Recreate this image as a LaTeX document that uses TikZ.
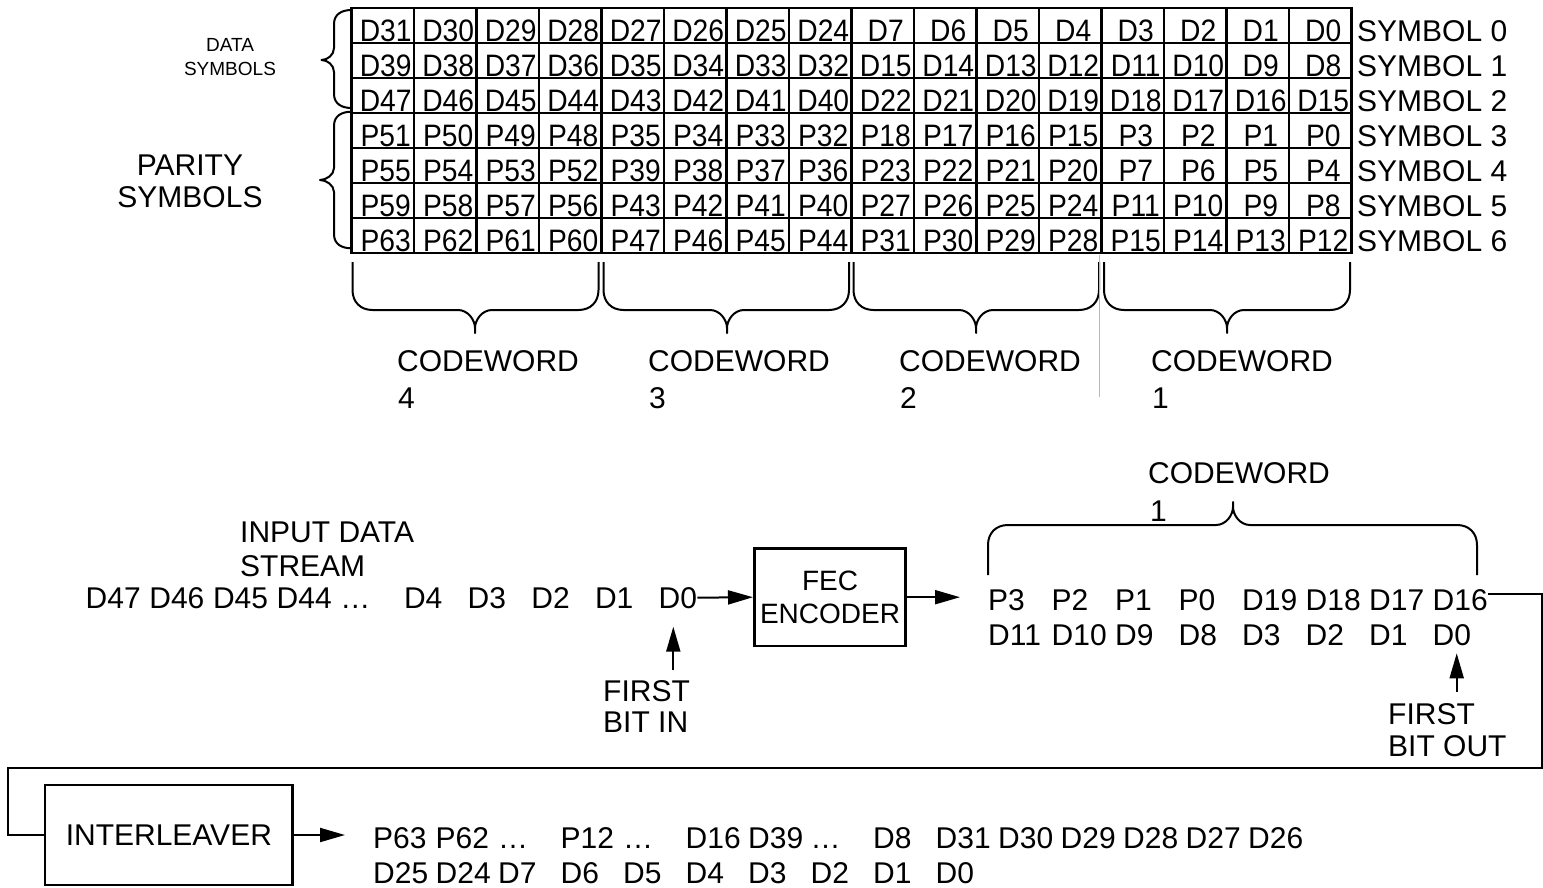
\documentclass[tikz,border=0pt]{standalone}
\usepackage{fontspec}
\setmainfont{Liberation Sans}
\newfontfamily\cellfont[FakeStretch=0.91]{Liberation Sans}
\usetikzlibrary{arrows.meta}

\tikzset{
  tbl/.style={line width=2.4pt, line cap=rect},
  brc/.style={line width=2pt, line join=round},
  wire/.style={line width=2pt},
  arr/.style={line width=2pt, -{Triangle[length=25pt,width=14pt]}},
  lbl/.style={inner sep=0pt, font=\fontsize{30}{35}\selectfont, anchor=base west},
  cell/.style={inner sep=0pt, font=\cellfont\fontsize{31}{35}\selectfont, anchor=base},
  box/.style={draw, line width=2.6pt, inner sep=0pt},
}

% horizontal brace: x1, x2, xtip, y-ends, y-bar, y-tip, direction (1 down, -1 up)
\newcommand{\hbrc}[7]{%
  \draw[brc] (#1,#4) -- (#1,{#5-20*#7}) .. controls (#1,{#5-8*#7}) and ({#1+8},#5) .. ({#1+20},#5)
    -- ({#3-17},#5) .. controls ({#3-7},#5) and (#3,{#5+10*#7}) .. (#3,{#6-5*#7}) -- (#3,#6)
    -- (#3,{#6-5*#7}) .. controls (#3,{#5+10*#7}) and ({#3+7},#5) .. ({#3+17},#5)
    -- ({#2-20},#5) .. controls ({#2-8},#5) and (#2,{#5-8*#7}) .. (#2,{#5-20*#7}) -- (#2,#4);}
% left brace: x-ends, x-body, x-tip, y-top, y-tip, y-bottom
\newcommand{\vbrc}[6]{%
  \draw[brc] (#1,#4) .. controls ({#2+8},#4) and (#2,{#4+4}) .. (#2,{#4+14})
    -- (#2,{#5-12}) .. controls (#2,{#5-5}) and ({#3+6},#5) .. (#3,#5)
    .. controls ({#3+6},#5) and (#2,{#5+5}) .. (#2,{#5+12})
    -- (#2,{#6-14}) .. controls (#2,{#6-4}) and ({#2+8},#6) .. (#1,#6);}
\newcommand{\cellrow}[2]{%
  \foreach \t [count=\c from 0] in {#2} {\node[cell] (c#1-\c) at ({385.75+62.5*\c},{41+35*#1}) {\t};}}

\begin{document}
\begin{tikzpicture}[x=1pt,y=-1pt]
\useasboundingbox (0,0) rectangle (1543,887);

% ---------- table ----------
\foreach \i in {0,...,16} \draw[tbl] ({351.5+62.5*\i},8) -- ({351.5+62.5*\i},253);
\foreach \j in {0,...,7} \draw[tbl] (351.5,{8+35*\j}) -- (1351.5,{8+35*\j});

\cellrow{0}{D31,D30,D29,D28,D27,D26,D25,D24,D7,D6,D5,D4,D3,D2,D1,D0}
\cellrow{1}{D39,D38,D37,D36,D35,D34,D33,D32,D15,D14,D13,D12,D11,D10,D9,D8}
\cellrow{2}{D47,D46,D45,D44,D43,D42,D41,D40,D22,D21,D20,D19,D18,D17,D16,D15}
\cellrow{3}{P51,P50,P49,P48,P35,P34,P33,P32,P18,P17,P16,P15,P3,P2,P1,P0}
\cellrow{4}{P55,P54,P53,P52,P39,P38,P37,P36,P23,P22,P21,P20,P7,P6,P5,P4}
\cellrow{5}{P59,P58,P57,P56,P43,P42,P41,P40,P27,P26,P25,P24,P11,P10,P9,P8}
\cellrow{6}{P63,P62,P61,P60,P47,P46,P45,P44,P31,P30,P29,P28,P15,P14,P13,P12}

\foreach \r in {0,...,6} \node[lbl] (sym\r) at (1357,{41+35*\r}) {SYMBOL \r};

% left labels and braces
\node[inner sep=0pt, font=\fontsize{19}{24}\selectfont, align=center] (dsym) at (230,57) {DATA\\SYMBOLS};
\node[inner sep=0pt, font=\fontsize{30}{32}\selectfont, align=center] (psym) at (190,181.6) {PARITY\\SYMBOLS};
\vbrc{351.5}{334}{321.5}{10}{60}{108}
\vbrc{351.5}{334}{320}{111.7}{180}{248.3}

% braces under table
\hbrc{352.5}{598.5}{475}{262}{310}{333}{1}
\hbrc{603.5}{849}{727}{262}{310}{333}{1}
\hbrc{853.5}{1099}{976}{262}{310}{333}{1}
\hbrc{1104}{1350}{1227}{262}{310}{333}{1}
\draw[line width=1.5pt, gray!55] (1099.3,255) -- (1099.3,397);

\foreach \n/\x in {4/397,3/648,2/899,1/1151} {
  \node[lbl] (cwl\n) at (\x,371.7) {CODEWORD};
  \node[lbl] (cwn\n) at (\x+1,408) {\n};
}

% ---------- input stream / encoder ----------
\node[lbl] (instrA) at (240,542) {INPUT DATA};
\node[lbl] (instrB) at (240,576) {STREAM};
\foreach \t [count=\k from 0] in {D47,D46,D45,D44,…,D4,D3,D2,D1,D0}
  \node[lbl] (in\k) at ({85.5+63.67*\k},608) {\t};

\node[box, font=\fontsize{28}{33}\selectfont, align=center, minimum width=151.4pt, minimum height=97.7pt] (fec) at (830,597.2) {FEC\\ENCODER};
\draw[arr] (in9.east) -- (fec.west);
\coordinate (cwin) at (960,597.2);
\draw[arr] (fec.east) -- (cwin);

\node[inner sep=0pt, font=\fontsize{30}{31.5}\selectfont, align=left, anchor=north west] (fbi) at (603,680.2) {FIRST\\BIT IN};
\coordinate (fbiT) at (673.3,670);
\coordinate (fbiH) at (673.3,626.7);
\draw[arr] (fbiT) -- (fbiH);

% codeword 1
\foreach \t [count=\k from 0] in {P3,P2,P1,P0,D19,D18,D17,D16}
  \node[lbl] (cwa\k) at ({988+63.5*\k},610.7) {\t};
\foreach \t [count=\k from 0] in {D11,D10,D9,D8,D3,D2,D1,D0}
  \node[lbl] (cwb\k) at ({988+63.5*\k},645.7) {\t};
\hbrc{988}{1477}{1233}{575}{525}{502}{-1}
\node[lbl] (cwtop) at (1148,483.3) {CODEWORD};
\node[lbl] (cwtopn) at (1150,521.7) {1};

\node[inner sep=0pt, font=\fontsize{30}{31.7}\selectfont, align=left, anchor=north west] (fbo) at (1388,703.5) {FIRST\\BIT OUT};
\coordinate (fboT) at (1456.7,691.7);
\coordinate (fboH) at (1456.7,653.3);
\draw[arr] (fboT) -- (fboH);

% ---------- interleaver ----------
\node[box, font=\fontsize{30}{35}\selectfont, minimum width=247.7pt, minimum height=100pt] (inter) at (168.85,835) {INTERLEAVER};
\coordinate (loopR) at (1541.7,768.3);
\coordinate (loopL) at (8.3,768.3);
\draw[wire] ([yshift=6pt]cwa7.east) -| (loopR) -- (loopL) |- (inter.west);
\coordinate (outtip) at (345,835);
\draw[arr] (inter.east) -- (outtip);

\foreach \t [count=\k from 0] in {P63,P62,…,P12,…,D16,D39,…,D8,D31,D30,D29,D28,D27,D26}
  \node[lbl] (outa\k) at ({373+62.5*\k},848.3) {\t};
\foreach \t [count=\k from 0] in {D25,D24,D7,D6,D5,D4,D3,D2,D1,D0}
  \node[lbl] (outb\k) at ({373+62.5*\k},883.3) {\t};
\end{tikzpicture}
\end{document}
